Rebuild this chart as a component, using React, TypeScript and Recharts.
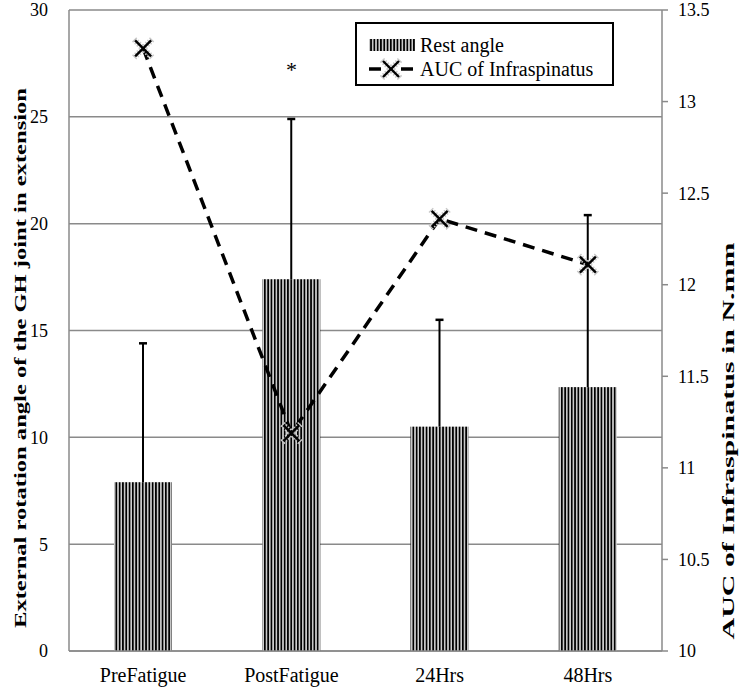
import React from 'react'
import { ComposedChart, Bar, Line, XAxis, YAxis, CartesianGrid, ReferenceDot, Legend } from 'recharts'

// values
const categories = ['PreFatigue', 'PostFatigue', '24Hrs', '48Hrs']
const restAngle = [7.9, 17.4, 10.5, 12.35]
const restAngleSd = [6.5, 7.5, 5.0, 8.05]
const aucInfraspinatus = [13.29, 11.19, 12.36, 12.11]
const leftTicks = [0, 5, 10, 15, 20, 25, 30]
const rightTicks = [10, 10.5, 11, 11.5, 12, 12.5, 13, 13.5]

const data = categories.map((name, i) => ({
  name,
  rest: restAngle[i],
  sd: restAngleSd[i],
  auc: aucInfraspinatus[i]
}))

const SERIF = '"Liberation Serif", "Times New Roman", serif'

// bar with striped fill and an upward-only error whisker
const StripedBar = (props: any) => {
  const { x, y, width, height, payload } = props
  if (!height) return null
  const k = height / payload.rest
  const cx = x + width / 2
  const top = y - payload.sd * k
  return (
    <g>
      <rect x={x} y={y} width={width} height={height} fill="url(#stripes)" />
      <line x1={cx} y1={y} x2={cx} y2={top} stroke="#000" strokeWidth={2} />
      <line x1={cx - 4} y1={top} x2={cx + 4} y2={top} stroke="#000" strokeWidth={2.5} />
    </g>
  )
}

const XMarker = (props: any) => {
  const { cx, cy } = props
  if (cx == null || cy == null) return null
  const s = 8
  return (
    <g>
      <line x1={cx - s - 1} y1={cy - s - 1} x2={cx + s + 1} y2={cy + s + 1} stroke="#c8c8c8" strokeWidth={6} strokeDasharray="1.5 1.5" />
      <line x1={cx - s - 1} y1={cy + s + 1} x2={cx + s + 1} y2={cy - s - 1} stroke="#c8c8c8" strokeWidth={6} strokeDasharray="1.5 1.5" />
      <line x1={cx - s} y1={cy - s} x2={cx + s} y2={cy + s} stroke="#000" strokeWidth={2.4} />
      <line x1={cx - s} y1={cy + s} x2={cx + s} y2={cy - s} stroke="#000" strokeWidth={2.4} />
    </g>
  )
}

const AxisTitle = ({ x, y, text, length }: { x: number, y: number, text: string, length: number }) => (
  <text
    x={x}
    y={y}
    transform={`rotate(-90 ${x} ${y})`}
    textAnchor="middle"
    dominantBaseline="central"
    fontFamily={SERIF}
    fontWeight="bold"
    fontSize={17}
    fill="#000"
    textLength={length}
    lengthAdjust="spacingAndGlyphs"
  >
    {text}
  </text>
)

const LegendBox = () => (
  <div style={{
    position: 'absolute', left: 355, top: 22, width: 255, height: 60,
    border: '2px solid #000', background: '#fff'
  }}>
    <svg width={255} height={60} style={{ position: 'absolute', left: 0, top: 0 }}>
      <defs>
        <pattern id="stripesLegend" width={3.3} height={10} patternUnits="userSpaceOnUse">
          <rect width={3.3} height={10} fill="#d0d0d0" />
          <rect width={1.7} height={10} fill="#000" />
        </pattern>
      </defs>
      <rect x={12} y={15} width={46} height={12} fill="url(#stripesLegend)" />
      <line x1={12} y1={45} x2={24} y2={45} stroke="#000" strokeWidth={3.5} />
      <line x1={44} y1={45} x2={56} y2={45} stroke="#000" strokeWidth={3.5} />
      <XMarker cx={34} cy={45} />
      <text x={63} y={21} dominantBaseline="central" fontFamily={SERIF} fontSize={20}>Rest angle</text>
      <text x={63} y={45} dominantBaseline="central" fontFamily={SERIF} fontSize={20}>AUC of  Infraspinatus</text>
    </svg>
  </div>
)

export default function App() {
  return (
    <div style={{ position: 'absolute', left: 0, top: 0, width: 741, height: 693, background: '#fff', fontFamily: SERIF }}>
      <ComposedChart
        width={741}
        height={693}
        data={data}
        margin={{ top: 10, right: 0, left: 0, bottom: 0 }}
        barCategoryGap={0}
      >
        <defs>
          <pattern id="stripes" width={3.3} height={10} patternUnits="userSpaceOnUse">
            <rect width={3.3} height={10} fill="#d0d0d0" />
            <rect width={1.7} height={10} fill="#000" />
          </pattern>
        </defs>
        <CartesianGrid yAxisId="left" vertical={false} stroke="#8a8a8a" strokeWidth={1.5} />
        <XAxis
          dataKey="name"
          height={42}
          axisLine={{ stroke: '#8a8a8a', strokeWidth: 1.5 }}
          tickLine={false}
          tick={{ fill: '#000', fontSize: 20, fontFamily: SERIF }}
          tickMargin={11}
        />
        <YAxis
          yAxisId="left"
          width={69}
          domain={[0, 30]}
          ticks={leftTicks}
          interval={0}
          axisLine={{ stroke: '#8a8a8a', strokeWidth: 1.5 }}
          tickLine={false}
          tickMargin={15}
          tick={{ fill: '#000', fontSize: 18, fontFamily: SERIF }}
        />
        <YAxis
          yAxisId="right"
          orientation="right"
          width={79}
          domain={[10, 13.5]}
          ticks={rightTicks}
          interval={0}
          axisLine={{ stroke: '#8a8a8a', strokeWidth: 1.5 }}
          tickLine={{ stroke: '#8a8a8a', strokeWidth: 1.5 }}
          tickSize={6}
          tickMargin={10}
          tick={{ fill: '#000', fontSize: 18, fontFamily: SERIF }}
        />
        <Bar yAxisId="left" dataKey="rest" barSize={58} shape={StripedBar} isAnimationActive={false} />
        <Line
          yAxisId="right"
          dataKey="auc"
          stroke="#000"
          strokeWidth={3.5}
          strokeDasharray="12 8"
          dot={XMarker}
          activeDot={false}
          isAnimationActive={false}
        />
        <ReferenceDot
          yAxisId="left"
          x="PostFatigue"
          y={27.25}
          r={0}
          label={{ value: '*', position: 'center', fontSize: 22, fontFamily: SERIF, fill: '#000' }}
        />
        <Legend content={() => null} />
      </ComposedChart>
      <svg width={741} height={693} style={{ position: 'absolute', left: 0, top: 0, pointerEvents: 'none' }}>
        <AxisTitle x={20} y={358} length={540} text="External rotation angle of the GH joint in extension" />
        <AxisTitle x={728} y={441} length={397} text="AUC of Infraspinatus in N.mm" />
      </svg>
      <LegendBox />
    </div>
  )
}
